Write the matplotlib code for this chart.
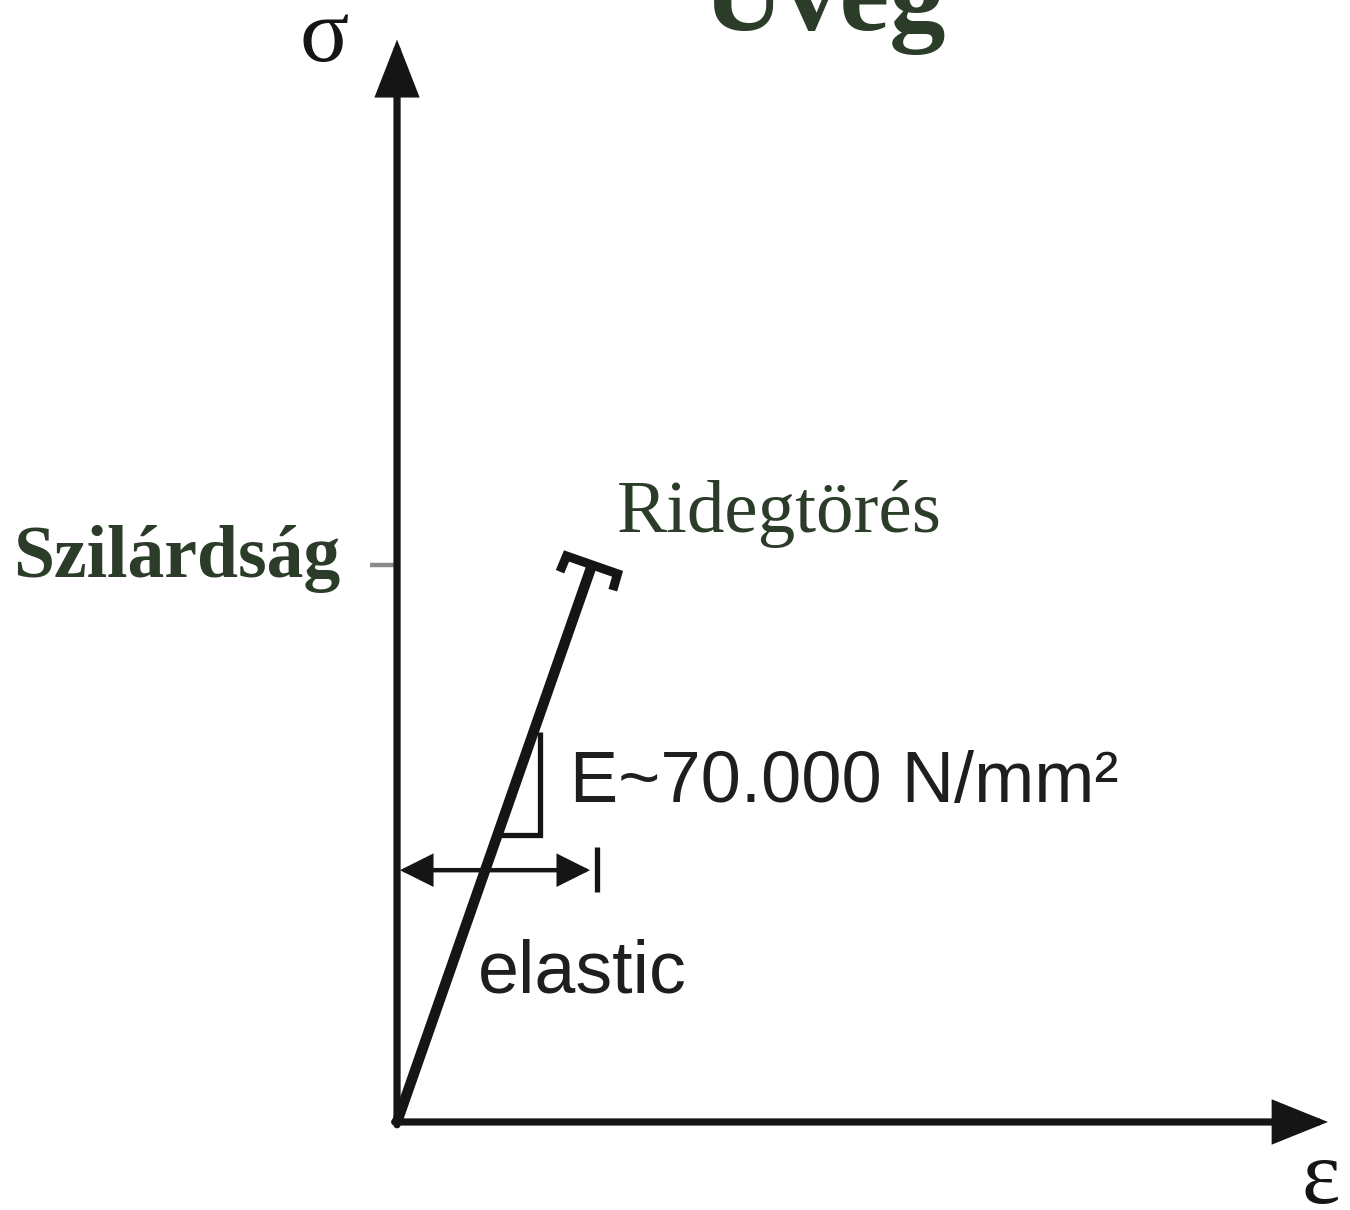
import numpy as np
import matplotlib
matplotlib.use("Agg")
import matplotlib.pyplot as plt

# Idealised stress-strain curve of glass: linear elastic up to brittle fracture
strain = [0.0, 1.0]          # relative strain (fracture strain = 1)
stress = [0.0, 1.0]          # relative stress (strength = 1)
strength = 1.0
fracture_strain = 1.0

title = "Üveg"
strength_label = "Szilárdság"
fracture_label = "Ridegtörés"
modulus_label = "E~70.000 N/mm²"
range_label = "elastic"
x_symbol = "ε"
y_symbol = "σ"

GREEN = "#2b3c29"
INK = "#151515"
SERIF = "Liberation Serif"
SANS = "Liberation Sans"

fig = plt.figure(figsize=(13.5, 12.1), dpi=100)
ax = fig.add_axes([0, 0, 1, 1])
ax.set_xlim(-2.036, 4.887)
ax.set_ylim(-0.158, 2.014)
ax.axis("off")

# Coordinate axes with filled arrow heads
ax.annotate("", xy=(0, 1.943), xytext=(0, -0.005),
            arrowprops=dict(arrowstyle="-|>,head_length=32,head_width=12.5",
                            mutation_scale=1, lw=5.2, color=INK,
                            shrinkA=0, shrinkB=0, joinstyle="miter"))
ax.annotate("", xy=(4.774, 0), xytext=(-0.012, 0),
            arrowprops=dict(arrowstyle="-|>,head_length=31,head_width=12.5",
                            mutation_scale=1, lw=5.2, color=INK,
                            shrinkA=0, shrinkB=0, joinstyle="miter"))

# Strength tick on the stress axis
ax.plot([-0.138, 0], [strength, strength], color="#8a8a8a", lw=3.2, solid_capstyle="butt")

# Elastic line up to fracture
ax.plot(strain, stress, color=INK, lw=7.5, solid_capstyle="butt")

# Fracture cap perpendicular to the line, with short hooks
T = ax.transData
p0 = T.transform((strain[0], stress[0]))
p1 = T.transform((strain[-1], stress[-1]))
u = (p1 - p0) / np.linalg.norm(p1 - p0)
n = np.array([u[1], -u[0]])
half, hook = 27, 17
a = p1 + n * half
b = p1 - n * half
cap = np.array([a - u * hook + n * 1, a, b, b - u * hook - n * 1])
cap_d = T.inverted().transform(cap)
ax.plot(cap_d[:, 0], cap_d[:, 1], color=INK, lw=6.5, solid_joinstyle="miter",
        solid_capstyle="butt")

# Slope triangle for the Young's modulus
tri_x = [0.515, 0.733, 0.733]
tri_y = [0.515, 0.515, 0.70]
ax.plot(tri_x, tri_y, color=INK, lw=3.8, solid_joinstyle="miter", solid_capstyle="butt")

# Elastic range double arrow with end bar
ax.annotate("", xy=(fracture_strain - 0.01, 0.452), xytext=(0.015, 0.452),
            arrowprops=dict(arrowstyle="<|-|>,head_length=19,head_width=9.5",
                            mutation_scale=1, lw=3.2, color=INK,
                            shrinkA=0, shrinkB=0, joinstyle="miter"))
ax.plot([fracture_strain + 0.026] * 2, [0.413, 0.494], color=INK, lw=3.8,
        solid_capstyle="butt")

# Labels
ax.text(2.19, 1.961, title, family=SERIF, fontweight="bold", fontsize=81,
        color=GREEN, ha="center", va="baseline")
ax.text(-0.292, 0.978, strength_label, family=SERIF, fontweight="bold",
        fontsize=53, color=GREEN, ha="right", va="baseline")
ax.text(1.128, 1.059, fracture_label, family=SERIF, fontsize=54,
        color=GREEN, ha="left", va="baseline")
ax.text(0.887, 0.575, modulus_label, family=SANS, fontsize=52,
        color="#1e1e1e", ha="left", va="baseline")
ax.text(0.415, 0.232, range_label, family=SANS, fontsize=53,
        color="#1e1e1e", ha="left", va="baseline")
ax.text(-0.374, 1.905, y_symbol, family=SERIF, fontsize=66,
        color=INK, ha="center", va="baseline")
ax.text(4.735, -0.146, x_symbol, family=SERIF, fontsize=66,
        color=INK, ha="center", va="baseline")

fig.savefig("out.png", dpi=100, facecolor="white")
